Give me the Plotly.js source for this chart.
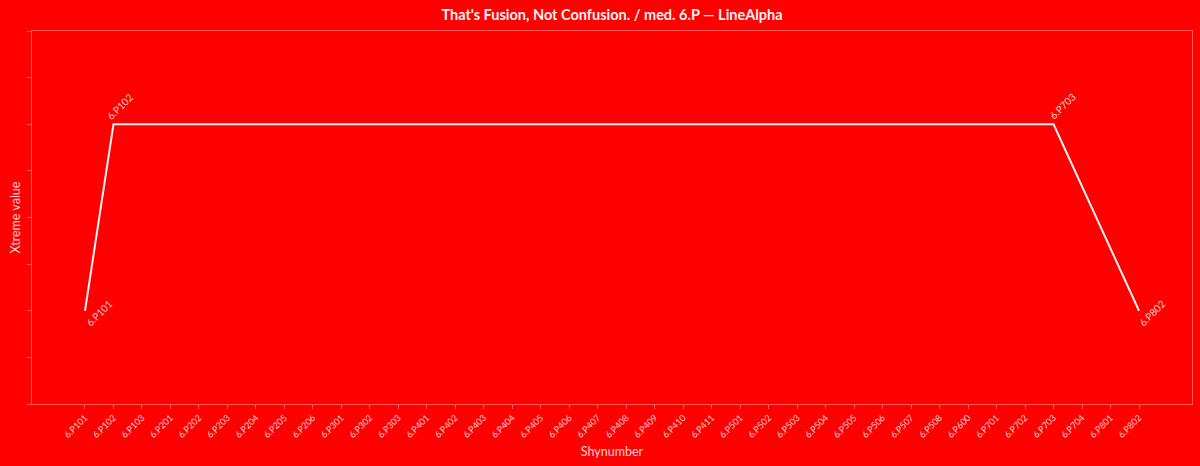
<!DOCTYPE html>
<html>
<head>
<meta charset="utf-8">
<script src="https://cdn.plot.ly/plotly-3.0.1.min.js"></script>
<style>html,body{margin:0;padding:0;background:#ff0000;}#chart{width:1200px;height:466px;}</style>
</head>
<body>
<div id="chart"></div>
<script>
const categories = ["6.P101","6.P102","6.P103","6.P201","6.P202","6.P203","6.P204","6.P205","6.P206","6.P301","6.P302","6.P303","6.P401","6.P402","6.P403","6.P404","6.P405","6.P406","6.P407","6.P408","6.P409","6.P410","6.P411","6.P501","6.P502","6.P503","6.P504","6.P505","6.P506","6.P507","6.P508","6.P600","6.P701","6.P702","6.P703","6.P704","6.P801","6.P802"];
const pointLabels = ["6.P101","6.P102","6.P703","6.P802"];
const pointValues = [2, 6, 6, 2];
const labelShiftX = [14, 7, 9, 13];
const labelShiftY = [-2, 18, 18, -2];

const fontFam = "Lato, 'Open Sans', sans-serif";
const txt = "rgba(255,255,255,0.8)";
const axisCol = "rgba(255,255,255,0.35)";

const trace = {
  type: "scatter", mode: "lines",
  x: pointLabels, y: pointValues,
  line: {color: "rgba(255,255,255,0.95)", width: 2},
  hoverinfo: "x+y"
};

const annotations = pointLabels.map((c, i) => ({
  x: c, y: pointValues[i], xref: "x", yref: "y",
  text: c, showarrow: false, textangle: -45,
  xanchor: "center", yanchor: "middle",
  xshift: labelShiftX[i], yshift: labelShiftY[i],
  font: {family: fontFam, size: 10, color: txt}
}));

const layout = {
  width: 1200, height: 466,
  paper_bgcolor: "#ff0000", plot_bgcolor: "#ff0000",
  margin: {l: 32, r: 8, t: 31, b: 62},
  showlegend: false,
  title: {text: "<b>That's Fusion, Not Confusion. / med. 6.P — LineAlpha</b>", x: 0.51, xanchor: "center", y: 0.968, yanchor: "middle",
    font: {family: fontFam, size: 14.5, color: "rgba(255,255,255,0.95)"}},
  xaxis: {
    type: "category", categoryorder: "array", categoryarray: categories,
    tickvals: categories, ticktext: categories,
    range: [-1.86, categories.length - 1 + 1.86],
    tickangle: -45, tickfont: {family: fontFam, size: 9, color: txt},
    ticks: "outside", ticklen: 4, tickcolor: axisCol, tickwidth: 1,
    showline: true, linecolor: axisCol, linewidth: 1, mirror: true,
    showgrid: false, zeroline: false,
    title: {text: "Shynumber", font: {family: fontFam, size: 12.5, color: txt}, standoff: 8}
  },
  yaxis: {
    range: [0, 8], dtick: 1, tick0: 0,
    showticklabels: false,
    ticks: "outside", ticklen: 4, tickcolor: axisCol, tickwidth: 1,
    showline: true, linecolor: axisCol, linewidth: 1, mirror: true,
    showgrid: false, zeroline: false,
    title: {text: "Xtreme value", font: {family: fontFam, size: 12.5, color: txt}, standoff: 3}
  },
  annotations: annotations
};

Plotly.newPlot("chart", [trace], layout, {displayModeBar: false, staticPlot: true});
</script>
</body>
</html>
